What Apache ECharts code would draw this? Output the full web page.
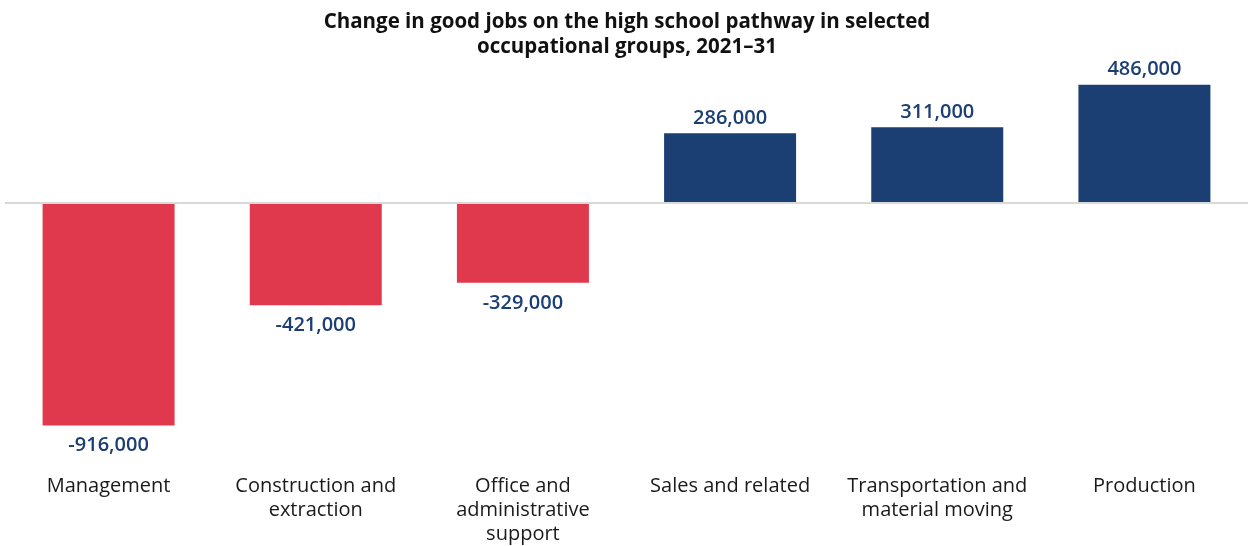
<!DOCTYPE html>
<html>
<head>
<meta charset="utf-8">
<script src="https://cdn.jsdelivr.net/npm/echarts@6/dist/echarts.min.js"></script>
<style>
html,body{margin:0;padding:0;background:#fff;}
#chart{width:1254px;height:546px;}
</style>
</head>
<body>
<div id="chart"></div>
<script>
const titleText = "Change in good jobs on the high school pathway in selected\noccupational groups, 2021–31";
const categories = [
  "Management",
  "Construction and\nextraction",
  "Office and\nadministrative\nsupport",
  "Sales and related",
  "Transportation and\nmaterial moving",
  "Production"
];
const changeValues = [-916000, -421000, -329000, 286000, 311000, 486000];

const NAVY = "#1b3f73";
const RED = "#e0394e";

const chart = echarts.init(document.getElementById('chart'), null, {renderer: 'canvas'});
chart.setOption({
  animation: false,
  backgroundColor: '#ffffff',
  title: {
    text: titleText,
    left: 'center',
    top: 5,
    textStyle: {
      fontFamily: 'Open Sans',
      fontWeight: 'bold',
      fontSize: 20.5,
      lineHeight: 25,
      color: '#111111'
    }
  },
  grid: {left: 5, right: 6, top: 57, height: 393, containLabel: false},
  xAxis: {
    type: 'category',
    data: categories,
    position: 'bottom',
    axisLine: {show: false, onZero: false},
    axisTick: {show: false},
    axisLabel: {
      interval: 0,
      margin: 28,
      fontFamily: 'Open Sans',
      fontSize: 20,
      lineHeight: 24,
      color: '#1a1a1a',
      verticalAlign: 'top'
    }
  },
  yAxis: {
    type: 'value',
    min: -1000000,
    max: 600000,
    show: false,
    splitLine: {show: false}
  },
  series: [{
    type: 'bar',
    data: changeValues.map(v => ({
      value: v,
      itemStyle: {color: v < 0 ? RED : NAVY},
      label: {position: v < 0 ? 'bottom' : 'top', distance: v < 0 ? 10 : 5}
    })),
    barWidth: 132,
    label: {
      show: true,
      color: NAVY,
      fontFamily: 'Open Sans',
      fontWeight: 600,
      fontSize: 20,
      formatter: p => p.value.toLocaleString('en-US')
    },
    markLine: {
      silent: true,
      symbol: ['none', 'none'],
      label: {show: false},
      lineStyle: {color: '#d9d9d9', width: 2, type: 'solid'},
      data: [{yAxis: 0}]
    },
    z: 2
  }]
});
</script>
</body>
</html>
